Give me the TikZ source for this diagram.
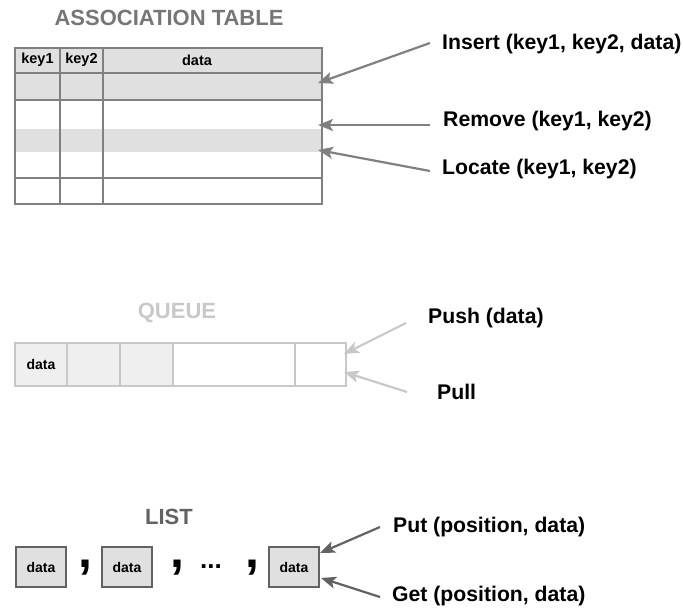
\documentclass[tikz,border=0pt]{standalone}
\usepackage{fontspec}
\setmainfont{Liberation Sans}
\usetikzlibrary{arrows.meta}
\definecolor{tline}{HTML}{808080}
\definecolor{tfill}{HTML}{E0E0E0}
\definecolor{qline}{HTML}{C8C8C8}
\definecolor{qfill}{HTML}{EFEFEF}
\definecolor{lline}{HTML}{626262}
\definecolor{ttitle}{HTML}{767676}
\begin{document}
\begin{tikzpicture}[x=1pt,y=-1pt,
  title/.style={font=\fontsize{22}{26}\selectfont\bfseries},
  lbl/.style={font=\fontsize{21.2}{25}\selectfont\bfseries, anchor=west, inner sep=0pt},
  small/.style={font=\fontsize{14.5}{17}\selectfont\bfseries, inner sep=0pt},
  harrow/.style={line width=2.2pt, -{Stealth[length=15pt,width=12pt,inset=3.5pt]}},
  listbox/.style={draw=lline, line width=2pt, fill=tfill, minimum width=50pt, minimum height=40pt, inner sep=0pt, font=\fontsize{14}{16}\selectfont\bfseries},
  sep/.style={font=\fontsize{50}{52}\selectfont\bfseries, inner sep=0pt}
]
\useasboundingbox (0,0) rectangle (683,608);

% ---------- Association table ----------
\node[title, text=ttitle] (ttl) at (169,18) {ASSOCIATION TABLE};
\fill[tfill] (15,48) rectangle (322,100);
\fill[tfill] (15,129) rectangle (322,152);
\begin{scope}[draw=tline, line width=2pt]
  \draw (15,73) -- (322,73);
  \draw (15,100) -- (322,100);
  \draw (15,178) -- (322,178);
  \draw (60,48) -- (60,204);
  \draw (103,48) -- (103,204);
  \draw (15,48) rectangle (322,204);
\end{scope}
\node[small] (k1) at (37.5,60) {key1};
\node[small] (k2) at (81.5,60) {key2};
\node[small] (kd) at (197,60) {data};

\node[lbl] (ins) at (442,44) {Insert (key1, key2, data)};
\node[lbl] (rem) at (443,121) {Remove (key1, key2)};
\node[lbl] (loc) at (442,169) {Locate (key1, key2)};
\coordinate (insT) at (318,83);
\coordinate (remT) at (318,125);
\coordinate (locT) at (318,150);
\coordinate (insS) at (430,43);
\coordinate (remS) at (430,125);
\coordinate (locS) at (430,171);
\draw[harrow, tline] (insS) -- (insT);
\draw[harrow, tline] (remS) -- (remT);
\draw[harrow, tline] (locS) -- (locT);

% ---------- Queue ----------
\node[title, text=qline] (qtl) at (177,313) {QUEUE};
\fill[qfill] (15,343) rectangle (173,386);
\begin{scope}[draw=qline, line width=2pt]
  \draw (67,343) -- (67,386);
  \draw (120,343) -- (120,386);
  \draw (173,343) -- (173,386);
  \draw (295,343) -- (295,386);
  \draw (15,343) rectangle (346,386);
\end{scope}
\node[small, font=\fontsize{14}{16}\selectfont\bfseries] (qd) at (41,364) {data};

\node[lbl] (push) at (428,318) {Push (data)};
\node[lbl] (pull) at (437,392) {Pull};
\coordinate (pushS) at (406,323);
\coordinate (pushT) at (344,354);
\coordinate (pullS) at (407,392);
\coordinate (pullT) at (344,372);
\draw[harrow, qline] (pushS) -- (pushT);
\draw[harrow, qline] (pullS) -- (pullT);

% ---------- List ----------
\node[title, text=lline] (ltl) at (169,517) {LIST};
\node[listbox] (b1) at (41,567) {data};
\node[listbox] (b2) at (127,567) {data};
\node[listbox] (b3) at (294,567) {data};
\node[sep] (c1) at (85,568) {,};
\node[sep] (c2) at (177,568) {,};
\node[font=\fontsize{26}{28}\selectfont\bfseries, inner sep=0pt] (dots) at (211,567) {...};
\node[sep] (c3) at (252,568) {,};

\node[lbl] (put) at (393,527) {Put (position, data)};
\node[lbl] (get) at (392,596) {Get (position, data)};
\coordinate (putS) at (380,527);
\coordinate (putT) at (320,553);
\coordinate (getS) at (380,597);
\coordinate (getT) at (321,578);
\draw[harrow, lline] (putS) -- (putT);
\draw[harrow, lline] (getS) -- (getT);
\end{tikzpicture}
\end{document}
